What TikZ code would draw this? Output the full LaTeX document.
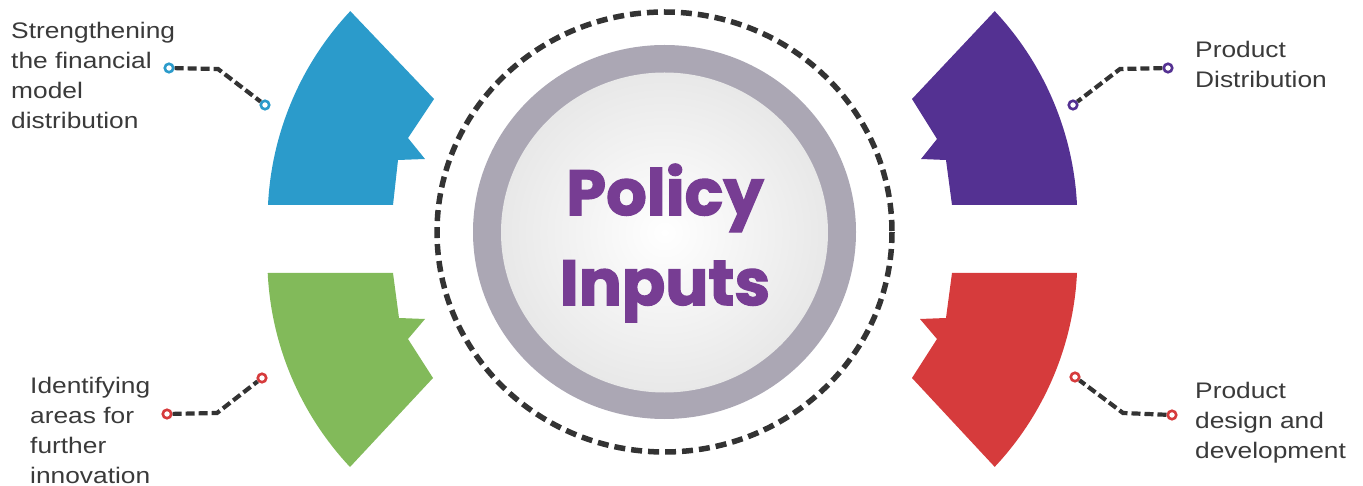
\documentclass[tikz,border=0pt]{standalone}
\usepackage{fontspec}
\setmainfont{Liberation Sans}[FakeStretch=1.17]
\newfontfamily\titlefont{Poppins}[BoldFeatures={FakeBold=2}]
\definecolor{finblue}{HTML}{2B9BCB}
\definecolor{innovgreen}{HTML}{82BA5A}
\definecolor{distpurple}{HTML}{543192}
\definecolor{designred}{HTML}{D63B3C}
\definecolor{ringgray}{HTML}{ABA7B4}
\definecolor{titlepurple}{HTML}{773D93}
\definecolor{textgray}{HTML}{3A3A3A}
\definecolor{leadgray}{HTML}{333333}
\begin{document}
\begin{tikzpicture}[x=1pt,y=1pt,yscale=-1,
 lbl/.style={anchor=north west,align=left,inner sep=0pt,text=textgray,font=\fontsize{22.5}{30}\selectfont},
 endring/.style={circle,draw=#1,line width=2.6pt,fill=white,minimum size=8.5pt,inner sep=0pt},
 leader/.style={draw=leadgray,line width=4.2pt,dash pattern=on 9pt off 4pt}]
 \useasboundingbox (0,0) rectangle (1363,486);
 \draw[leadgray,line width=5.5pt,dash pattern=on 11pt off 6pt] (664.5,232) ellipse[x radius=227.5,y radius=220];
 \fill[ringgray] (664.5,232) ellipse[x radius=191.5,y radius=187];
 \shade[inner color=white,outer color=black!9] (664.5,232.5) ellipse[x radius=163.5,y radius=160];
 \node[text=titlepurple,font=\titlefont\bfseries\fontsize{64}{90}\selectfont,align=center] (policy) at (665,243) {Policy\\Inputs};
 \fill[finblue] (268,205) arc[start angle=182.8,end angle=223.2,radius=305] -- (434,99) -- (408,138) -- (425,159) -- (398,160) -- (393,205) -- cycle;
 \fill[innovgreen] (268,273) -- (393,273) -- (399,318) -- (425,319) -- (408,339) -- (433,378) -- (350,467) arc[start angle=136.8,end angle=177.2,radius=305] -- cycle;
 \fill[distpurple] (952,205) -- (1077,205) arc[start angle=-2.8,end angle=-43.2,radius=305] -- (912,99) -- (937,139) -- (921,159) -- (946,160) -- cycle;
 \fill[designred] (952,273) -- (1077,273) arc[start angle=2.8,end angle=43.2,radius=305] -- (912,378) -- (937,339) -- (920,319) -- (946,318) -- cycle;
 \node[lbl] (finlbl) at (11,22) {Strengthening\\the financial\\model\\distribution};
 \node[lbl] (innovlbl) at (30,377) {Identifying\\areas for\\further\\innovation};
 \node[lbl] (distlbl) at (1195,41) {Product\\Distribution};
 \node[lbl] (designlbl) at (1195,382) {Product\\design and\\development};
 \node[endring=finblue] (fin-a) at (169,68) {};
 \node[endring=finblue] (fin-b) at (265,105) {};
 \coordinate (fin-k) at (218,69);
 \draw[leader] (fin-a) -- (fin-k) -- (fin-b);
 \node[endring=designred] (innov-a) at (167,414) {};
 \node[endring=designred] (innov-b) at (262,378) {};
 \coordinate (innov-k) at (217,413);
 \draw[leader] (innov-a) -- (innov-k) -- (innov-b);
 \node[endring=distpurple] (dist-a) at (1168,68) {};
 \node[endring=distpurple] (dist-b) at (1073,105) {};
 \coordinate (dist-k) at (1120,69);
 \draw[leader] (dist-a) -- (dist-k) -- (dist-b);
 \node[endring=designred] (design-a) at (1172,415) {};
 \node[endring=designred] (design-b) at (1075,377) {};
 \coordinate (design-k) at (1123,413);
 \draw[leader] (design-a) -- (design-k) -- (design-b);
\end{tikzpicture}
\end{document}
